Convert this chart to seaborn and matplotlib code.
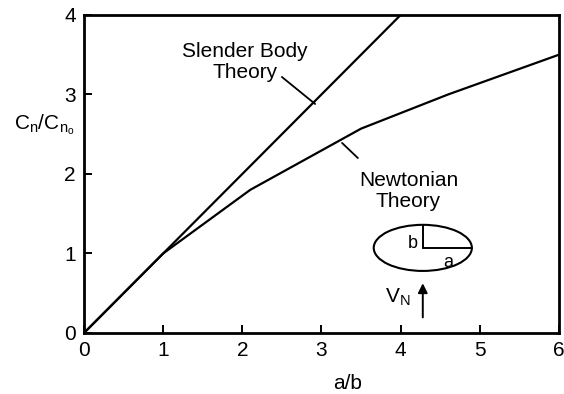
import numpy as np
import pandas as pd
import matplotlib
matplotlib.use('Agg')
import matplotlib.pyplot as plt
from matplotlib.patches import Ellipse
import seaborn as sns

# values
slender_ab = [0, 1, 2, 3, 4.05]
slender_cn = [0, 1, 2, 3, 4.05]
newton_ab = [0, 1, 2.1, 3.5, 4.6, 6]
newton_cn = [0, 1, 1.8, 2.57, 3.0, 3.5]
x_ticks = [0, 1, 2, 3, 4, 5, 6]
y_ticks = [0, 1, 2, 3, 4]

sns.set_style('ticks')
plt.rcParams['font.family'] = ['Liberation Sans', 'DejaVu Sans']
plt.rcParams['text.color'] = 'black'
plt.rcParams['axes.labelcolor'] = 'black'
plt.rcParams['mathtext.fontset'] = 'custom'
plt.rcParams['mathtext.rm'] = 'Liberation Sans'
plt.rcParams['mathtext.it'] = 'Liberation Sans'

df_s = pd.DataFrame({'ab': slender_ab, 'cn': slender_cn})
df_n = pd.DataFrame({'ab': newton_ab, 'cn': newton_cn})

fig = plt.figure(figsize=(5.64, 3.94), dpi=100)
ax = fig.add_axes([0.149, 0.155, 0.842, 0.807])

sns.lineplot(data=df_s, x='ab', y='cn', color='black', lw=1.6, ax=ax, sort=False)
sns.lineplot(data=df_n, x='ab', y='cn', color='black', lw=1.6, ax=ax, sort=False)

ax.set_xlim(0, 6)
ax.set_ylim(0, 4)
ax.set_xticks(x_ticks)
ax.set_yticks(y_ticks)
ax.tick_params(direction='in', length=6, width=1.4, labelsize=15, colors='black', pad=6)
for s in ax.spines.values():
    s.set_linewidth(2)
    s.set_color('black')

ax.set_xlabel('a/b', fontsize=15, va='top')
ax.xaxis.set_label_coords(0.555, -0.13)
ax.set_ylabel(r'$\mathregular{C_n/C_{n_o}}$', fontsize=15, rotation=0, va='center', ha='center')
ax.yaxis.set_label_coords(-0.084, 0.655)

# labels with leader lines
ax.text(2.03, 3.41, 'Slender Body\nTheory', fontsize=15, ha='center', va='center', linespacing=1.15)
ax.plot([2.5, 2.92], [3.22, 2.88], color='black', lw=1.3)
ax.text(4.1, 1.79, 'Newtonian\nTheory', fontsize=15, ha='center', va='center', linespacing=1.15)
ax.plot([3.26, 3.46], [2.39, 2.2], color='black', lw=1.3)

# ellipse sketch
cx, cy = 4.28, 1.07
ax.add_patch(Ellipse((cx, cy), 1.24, 0.58, fill=False, lw=1.5, color='black'))
ax.plot([cx, cx], [cy, cy + 0.29], color='black', lw=1.4)
ax.plot([cx, cx + 0.62], [cy, cy], color='black', lw=1.4)
ax.text(4.16, 1.12, 'b', fontsize=13, ha='center', va='center')
ax.text(4.6, 0.88, 'a', fontsize=13, ha='center', va='center')
ax.annotate('', xy=(cx, 0.66), xytext=(cx, 0.16),
            arrowprops=dict(arrowstyle='-|>', color='black', lw=1.4, mutation_scale=14))
ax.text(3.96, 0.45, r'$\mathregular{V_N}$', fontsize=15, ha='center', va='center')

fig.savefig('out.png', dpi=100)
